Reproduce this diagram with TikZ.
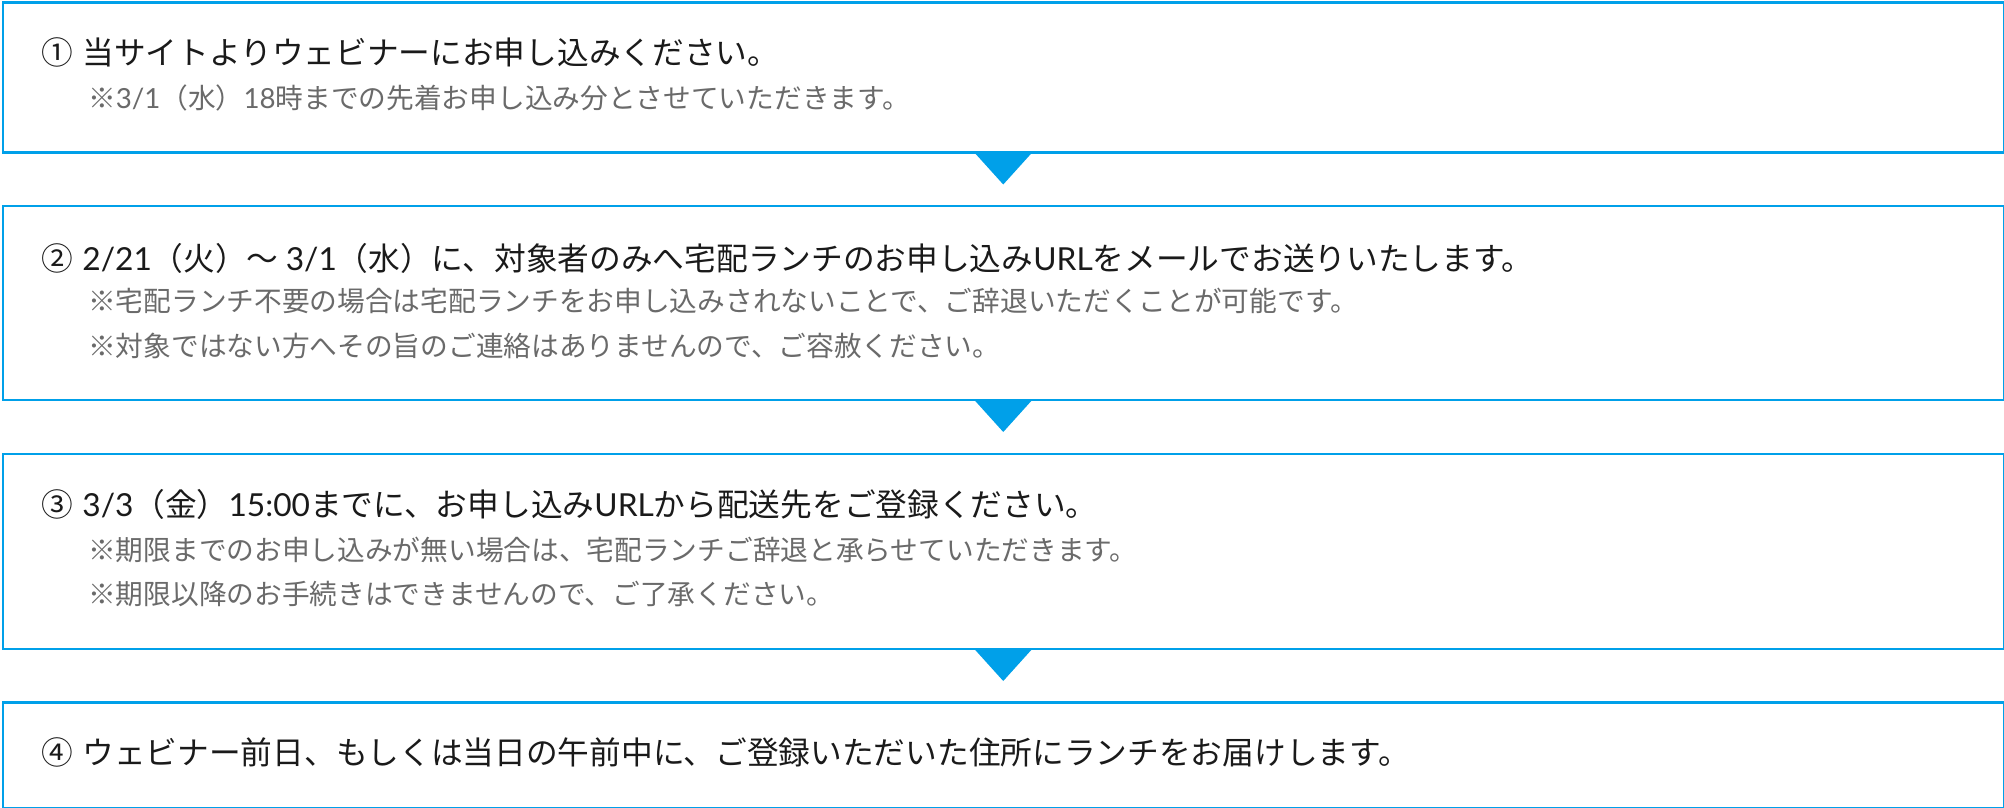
\documentclass[tikz,border=0pt]{standalone}
\usepackage{fontspec}
\setmainfont{Noto Sans CJK JP}
\newfontfamily\lat{Lato}
\definecolor{fblue}{HTML}{00A0E9}
\definecolor{maintxt}{HTML}{1A1A1A}
\definecolor{subtxt}{HTML}{6A6A6A}
\tikzset{
  stepbox/.style={draw=fblue, line width=2.5pt, fill=white, inner sep=0pt, anchor=north west},
  maintext/.style={anchor=base west, inner sep=0pt, text=maintxt, font=\fontsize{31.7}{38}\selectfont},
  subtext/.style={anchor=base west, inner sep=0pt, text=subtxt, font=\fontsize{27.7}{33}\selectfont},
  flowtri/.style={fill=fblue, draw=none}
}
\begin{document}
\begin{tikzpicture}[x=1pt,y=-1pt]
\useasboundingbox (0,0) rectangle (2004,808);
% boxes
\node[stepbox, minimum width=2001pt, minimum height=149.5pt] (b1) at (1.5,1.5) {};
\node[stepbox, minimum width=2001pt, minimum height=194pt] (b2) at (1.5,204.5) {};
\node[stepbox, minimum width=2001pt, minimum height=195pt] (b3) at (1.5,452.5) {};
\node[stepbox, minimum width=2001pt, minimum height=105.5pt] (b4) at (1.5,701) {};
% triangles
\foreach \b in {b1,b2,b3}{
  \fill[flowtri] ([xshift=-28pt]\b.south) -- ([xshift=28pt]\b.south) -- ([yshift=-31pt]\b.south) -- cycle;
}
% texts
\node[maintext] (t1) at (41,65) {①\hspace{0.3em}当サイトよりウェビナーにお申し込みください。};
\node[subtext] (s1a) at (88,108) {※{\lat 3/1}（水）{\lat 18}時までの先着お申し込み分とさせていただきます。};

\node[maintext] (t2) at (41,270) {②\hspace{0.3em}{\lat 2/21}（火）〜 {\lat 3/1}（水）に、対象者のみへ宅配ランチのお申し込み{\lat URL}をメールでお送りいたします。};
\node[subtext] (s2a) at (88,311) {※宅配ランチ不要の場合は宅配ランチをお申し込みされないことで、ご辞退いただくことが可能です。};
\node[subtext] (s2b) at (88,356) {※対象ではない方へその旨のご連絡はありませんので、ご容赦ください。};

\node[maintext] (t3) at (41,516) {③\hspace{0.3em}{\lat 3/3}（金）{\lat 15:00}までに、お申し込み{\lat URL}から配送先をご登録ください。};
\node[subtext] (s3a) at (88,560) {※期限までのお申し込みが無い場合は、宅配ランチご辞退と承らせていただきます。};
\node[subtext] (s3b) at (88,604) {※期限以降のお手続きはできませんので、ご了承ください。};

\node[maintext] (t4) at (41,764) {④\hspace{0.3em}ウェビナー前日、もしくは当日の午前中に、ご登録いただいた住所にランチをお届けします。};
\end{tikzpicture}
\end{document}
